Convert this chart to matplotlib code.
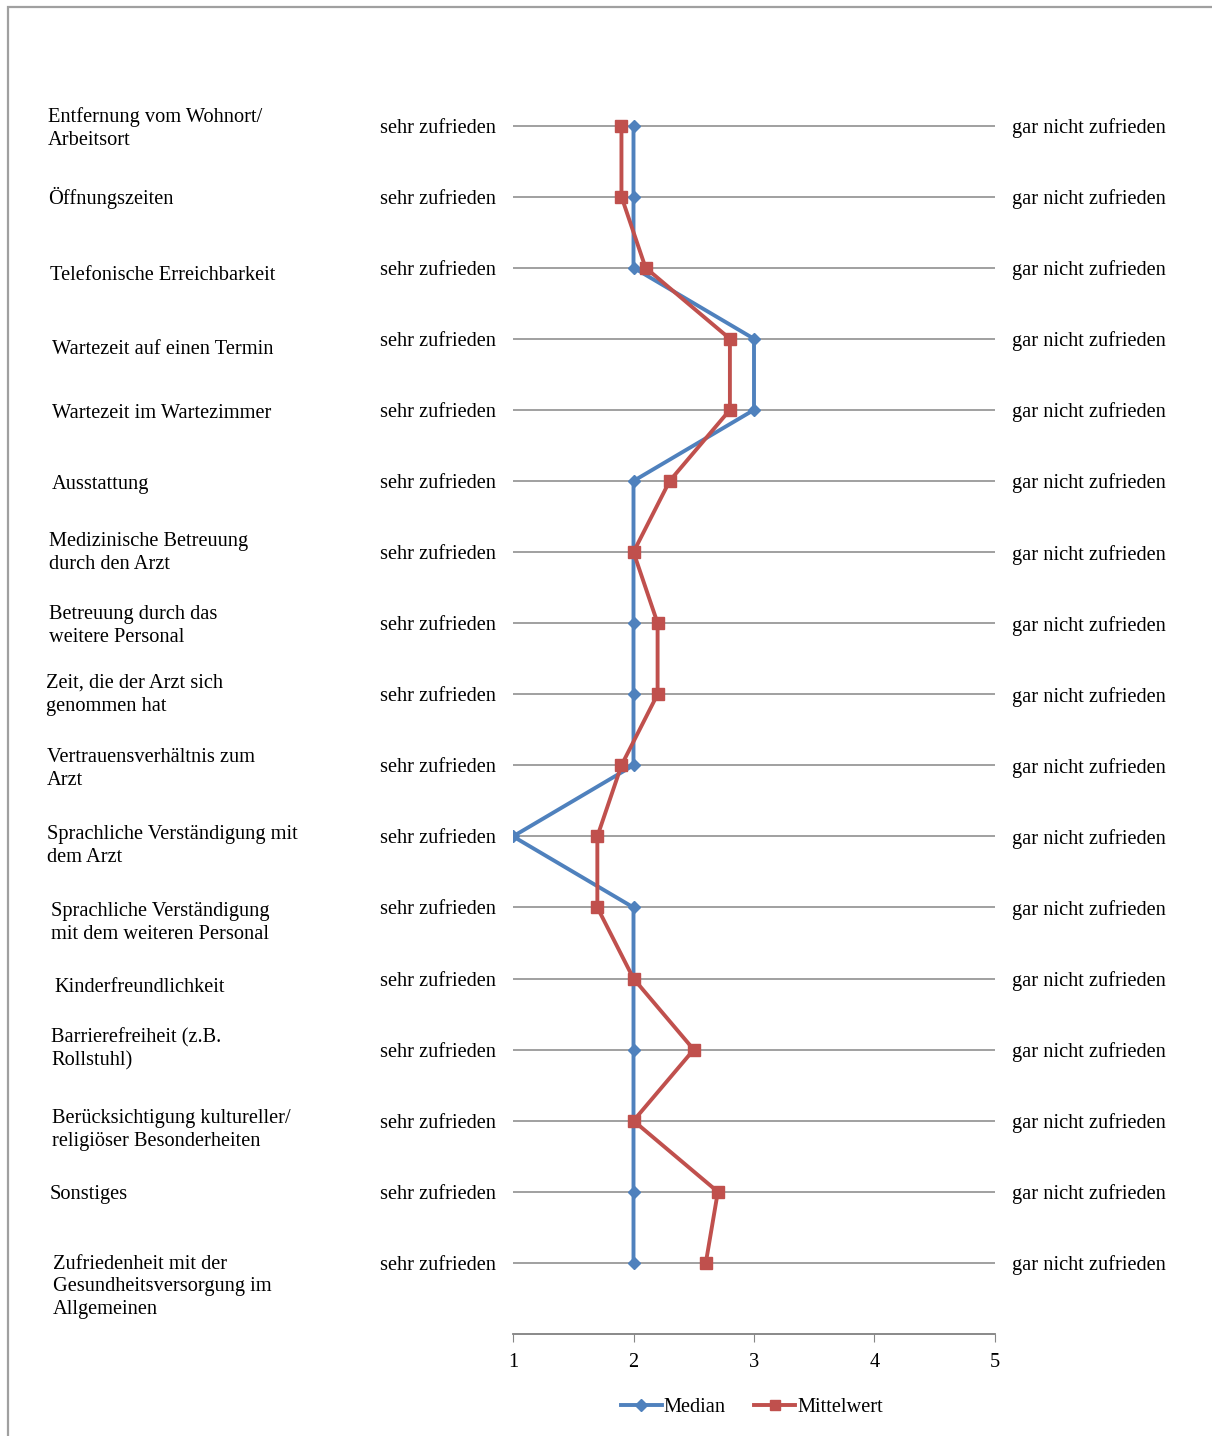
import matplotlib
matplotlib.use("Agg")
from matplotlib import pyplot as plt
from matplotlib.patches import Rectangle
from matplotlib.lines import Line2D

# data
categories = [
    "Entfernung vom Wohnort/\nArbeitsort",
    "Öffnungszeiten",
    "Telefonische Erreichbarkeit",
    "Wartezeit auf einen Termin",
    "Wartezeit im Wartezimmer",
    "Ausstattung",
    "Medizinische Betreuung\ndurch den Arzt",
    "Betreuung durch das\nweitere Personal",
    "Zeit, die der Arzt sich\ngenommen hat",
    "Vertrauensverhältnis zum\nArzt",
    "Sprachliche Verständigung mit\ndem Arzt",
    "Sprachliche Verständigung\nmit dem weiteren Personal",
    "Kinderfreundlichkeit",
    "Barrierefreiheit (z.B.\nRollstuhl)",
    "Berücksichtigung kultureller/\nreligiöser Besonderheiten",
    "Sonstiges",
    "Zufriedenheit mit der\nGesundheitsversorgung im\nAllgemeinen",
]
median = [2, 2, 2, 3, 3, 2, 2, 2, 2, 2, 1, 2, 2, 2, 2, 2, 2]
mittelwert = [1.9, 1.9, 2.1, 2.8, 2.8, 2.3, 2.0, 2.2, 2.2, 1.9, 1.7, 1.7,
              2.0, 2.5, 2.0, 2.7, 2.6]
left_label = "sehr zufrieden"
right_label = "gar nicht zufrieden"
xticks = [1, 2, 3, 4, 5]

# layout of the hand-placed text boxes (pixels)
lab_x = [48, 48, 50, 52, 52, 52, 49, 49, 46, 47, 47, 51, 54, 51, 52, 50, 53]
lab_dy = [0, -2, 4, 8, 1, 0, -2, 0, -2, 1, 7, 13, 6, -3, 7, 0, 22]

W, H = 1212, 1436
plt.rcParams['font.family'] = ['Liberation Serif', 'DejaVu Serif']
plt.rcParams['font.size'] = 14.7

blue = '#4F81BD'
red = '#C0504D'
grey = '#868686'

fig = plt.figure(figsize=(W / 100, H / 100), dpi=100)
ax = fig.add_axes([513 / W, 1 - 1334 / H, (995 - 513) / W, (1334 - 90) / H])

rows = list(range(1, len(categories) + 1))
ax.plot(median, rows, '-D', color=blue, lw=2.8, ms=6.5, label='Median', zorder=3)
ax.plot(mittelwert, rows, '-s', color=red, lw=2.8, ms=8, label='Mittelwert', zorder=4)

ax.set_xlim(1, 5)
ax.set_ylim(18, 0.5)
ax.set_xticks(xticks)
ax.set_xticklabels([str(t) for t in xticks])
ax.tick_params(axis='x', direction='out', length=6, color=grey, pad=8)

ax.set_yticks(rows)
ax.set_yticklabels([left_label] * len(rows))
ax.tick_params(axis='y', length=0, pad=12)
ax.yaxis.grid(True, color=grey, lw=1.1)
ax.set_axisbelow(True)

ax2 = ax.twinx()
ax2.set_ylim(18, 0.5)
ax2.set_yticks(rows)
ax2.set_yticklabels([right_label] * len(rows))
ax2.tick_params(axis='y', length=0, pad=12)

for a in (ax, ax2):
    for s in ('top', 'left', 'right'):
        a.spines[s].set_visible(False)
    a.spines['bottom'].set_color(grey)
    a.spines['bottom'].set_linewidth(1.1)

# category labels on the left
for i, lab in enumerate(categories):
    ypix = 129 + 71 * i + lab_dy[i]
    fig.text(lab_x[i] / W, 1 - ypix / H, lab, ha='left', va='center',
             linespacing=1.28)

# outer frame
fig.patches.append(Rectangle((8 / W, -0.1), 1.2, 1 - 7 / H + 0.1,
                             transform=fig.transFigure, fill=False,
                             edgecolor='#A0A0A0', lw=1.6))

handles = [Line2D([], [], color=blue, marker='D', lw=2.8, ms=6.5),
           Line2D([], [], color=red, marker='s', lw=2.8, ms=8)]
fig.legend(handles, ['Median', 'Mittelwert'], loc='center', ncol=2,
           bbox_to_anchor=(752 / W, 1 - 1407 / H), frameon=False,
           handlelength=2.0, handletextpad=0.1, columnspacing=1.4,
           markerscale=0.9)

fig.savefig('out.png', dpi=100)
